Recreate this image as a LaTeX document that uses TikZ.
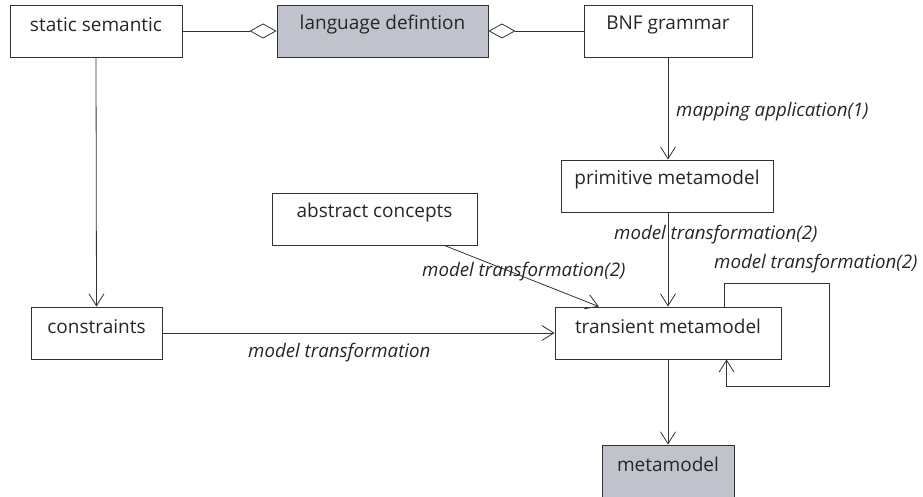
\documentclass[tikz,border=0pt]{standalone}
\usepackage{fontspec}
\setmainfont{Open Sans}
\usetikzlibrary{arrows.meta,calc}
\definecolor{boxgray}{RGB}{192,195,203}
\definecolor{linecol}{RGB}{50,50,50}
\begin{document}
\begin{tikzpicture}[x=1pt,y=-1pt,
  box/.style={draw=linecol,line width=0.9pt,rectangle,minimum height=52pt,inner sep=0pt,font=\fontsize{19}{22}\selectfont},
  gbox/.style={box,fill=boxgray},
  tx/.style={label={[anchor=center,yshift=-20pt,text=black!85,font=\fontsize{19}{22}\selectfont]north:#1}},
  lab/.style={anchor=west,inner sep=0pt,text=black!85,font=\fontsize{18.7}{22}\selectfont\itshape},
  arr/.style={draw=linecol,line width=0.8pt,-{Straight Barb[length=12pt,width=15pt,line width=0.8pt]}},
  agg/.style={draw=linecol,line width=0.8pt,-{Diamond[open,length=27pt,width=15pt,line width=0.8pt]}}]
\useasboundingbox (0,0) rectangle (923,497);
\node[box,minimum width=172pt,tx={static semantic}] (ss) at (96,31) {};
\node[gbox,minimum width=211pt,tx={language defintion}] (ld) at (382.5,31) {};
\node[box,minimum width=168pt,tx={BNF grammar}] (bnf) at (668,31) {};
\node[box,minimum width=212pt,tx={primitive metamodel}] (prim) at (667,186) {};
\node[box,minimum width=205pt,tx={abstract concepts}] (abs) at (374.5,219) {};
\node[box,minimum width=131pt,tx={constraints}] (cons) at (96.5,333) {};
\node[box,minimum width=226pt,tx={transient metamodel}] (tr) at (668,333) {};
\node[gbox,minimum width=132pt,tx={metamodel}] (meta) at (668,471) {};
\coordinate (l1) at (829,283);
\coordinate (l2) at (829,386);
% aggregation
\draw[agg] (ss.east) -- (ld.west);
\draw[agg] (bnf.west) -- (ld.east);
% arrows
\draw[arr] (ss.south) -- (cons.north);
\draw[arr] (bnf.south) -- (bnf.south |- prim.north);
\draw[arr] (prim.south -| tr.north) -- (tr.north);
\draw[arr] ($(abs.south)!0.678!(abs.south east)$) -- ($(tr.north west)!0.195!(tr.north east)$);
\draw[arr] (cons.east) -- (tr.west);
\draw[arr] ([xshift=170pt]tr.north west) |- (l1) -- (l2) -| ([xshift=172pt]tr.south west);
\draw[arr] (tr.south) -- (meta.north);
% labels
\node[lab] (la1) at (676,112) {mapping application(1)};
\node[lab] (la2) at (614,235) {model transformation(2)};
\node[lab] (la3) at (422,272) {model transformation(2)};
\node[lab] (la4) at (714,264) {model transformation(2)};
\node[lab] (la5) at (248,353) {model transformation};
\end{tikzpicture}
\end{document}
